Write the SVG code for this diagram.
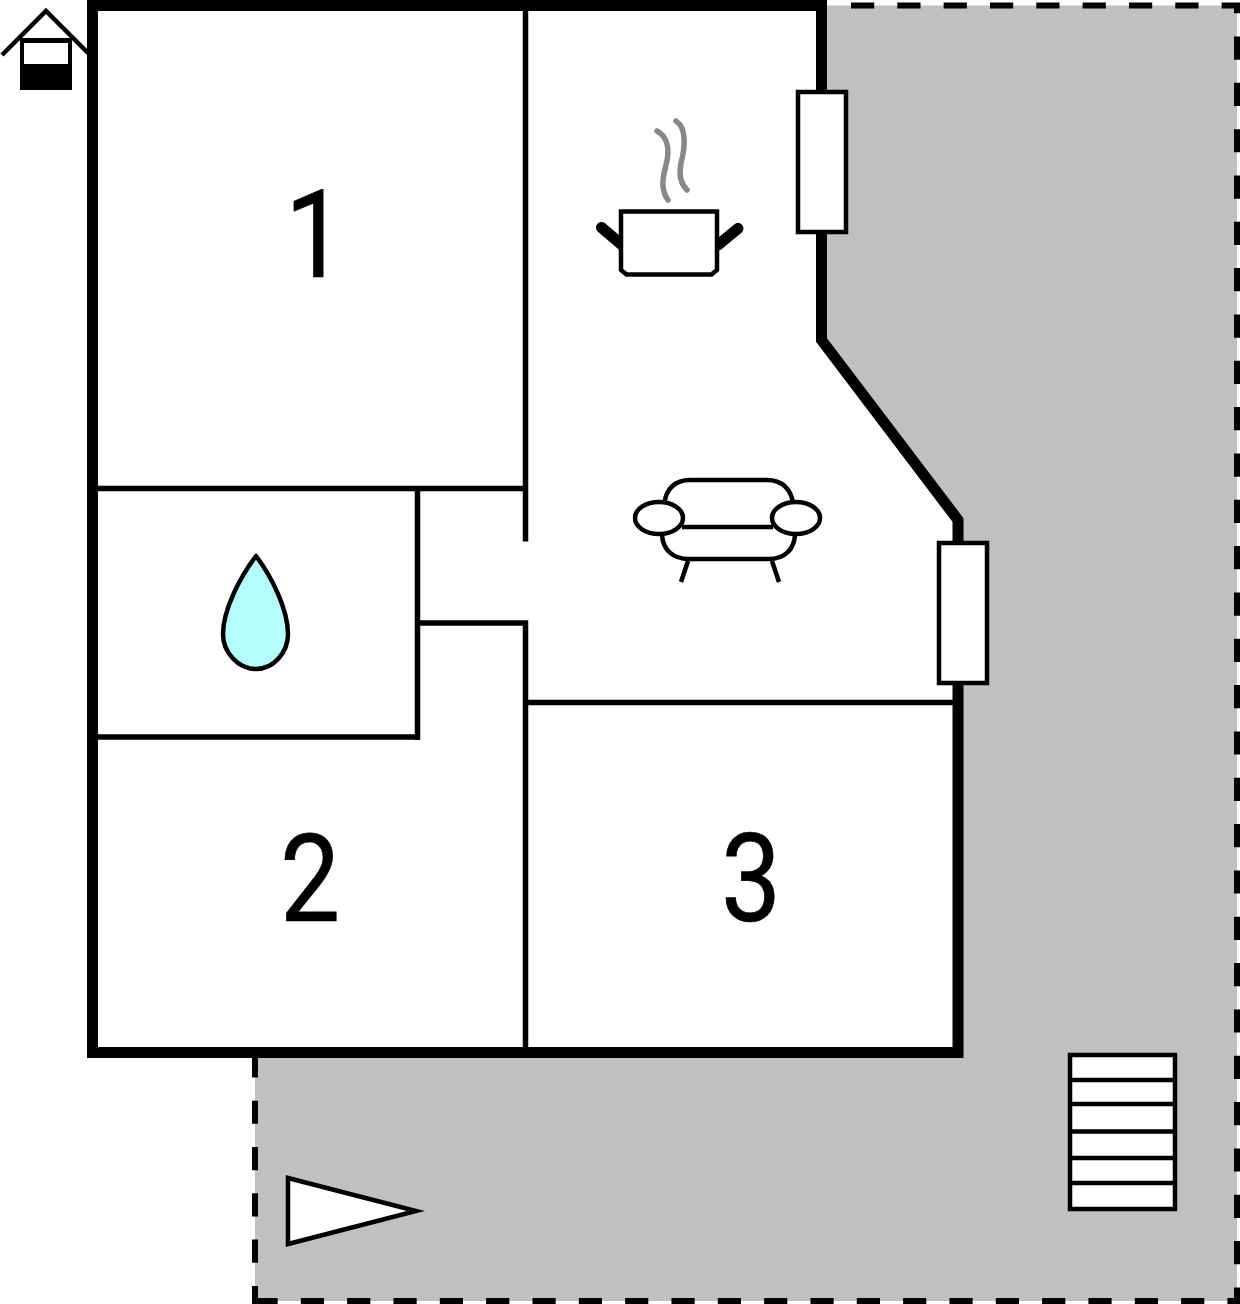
<svg xmlns="http://www.w3.org/2000/svg" width="1240" height="1304" viewBox="0 0 1240 1304">
<style>
.dash{fill:none;stroke:#000;stroke-width:6;stroke-dasharray:23.2 23.13}
.wall{fill:none;stroke:#000;stroke-width:11;stroke-linejoin:miter}
.thin{fill:none;stroke:#000;stroke-width:5.5}
.line{fill:#fff;stroke:#000;stroke-width:4.5}
.open{fill:none;stroke:#000;stroke-width:4.5}
.steam{fill:none;stroke:#888;stroke-width:5.5;stroke-linecap:round}
.num{font-family:Roboto,"Liberation Sans",Arial,sans-serif;font-size:123px;fill:#000;stroke:#000;stroke-width:.7;text-anchor:middle}
</style>
<rect width="1240" height="1304" fill="#fff"/>
<g id="terrace">
<path d="M821,5.5H1237V1301H255V1052H958V520L821,340Z" fill="#c0c0c0"/>
<path class="dash" d="M851,5.5H1237V1301H255"/>
<path class="dash" d="M255,1054.3V1304"/>
</g>
<g id="walls">
<path class="wall" d="M92.5,5.5H821.5V340L958,520V1052.5H92.5Z"/>
<path class="thin" d="M525.5,11V541.5M98,488.5H525M417.5,488V740M98,737H420M417.5,623H528M525.5,620.5V1047M525,702.5H953"/>
</g>
<g id="window-1"><rect class="line" x="798" y="92" width="48" height="140"/></g>
<g id="window-2"><rect class="line" x="939" y="543" width="48" height="140"/></g>
<g id="house">
<path d="M2,55L46,11L88,53" fill="none" stroke="#000" stroke-width="4.5"/>
<rect x="20" y="38" width="52" height="52" fill="#000"/>
<rect x="24" y="43" width="44" height="21" fill="#fff"/>
</g>
<g id="room-1"><text class="num" transform="translate(315 277) scale(.87 1)">1</text></g>
<g id="room-2"><text class="num" transform="translate(310 921) scale(.87 1)">2</text></g>
<g id="room-3"><text class="num" transform="translate(751 921) scale(.87 1)">3</text></g>
<g id="pot">
<path class="steam" d="M657,131C668,137 670,150 666,165C662,180 661,190 668,200"/>
<path class="steam" d="M676,121C687,128 685,148 681,163C679,173 680,183 687,190"/>
<path d="M601.5,227.5L622,245M738,228.5L718,245" fill="none" stroke="#000" stroke-width="11" stroke-linecap="round"/>
<path class="line" d="M621,211.5H717V270L711.5,274.5H626.5L621,270Z"/>
</g>
<g id="sofa">
<path class="open" d="M664.5,503C666,489 675,480 690,480H767C782,480 791,489 793,503M682,527H773M662,535C663,550 673,559 689,559H769C784,559 794,550 795,535M688,561L681,582M772,561L779,582"/>
<ellipse class="line" cx="659" cy="518" rx="24" ry="16"/>
<ellipse class="line" cx="796" cy="518" rx="24" ry="16"/>
</g>
<g id="drop">
<path d="M256,556C240,577 223,610 223,634C223,652 238,669 256,669C274,669 288,652 288,634C288,610 272,577 256,556Z" fill="#b3ffff" stroke="#000" stroke-width="4.5" stroke-linejoin="round"/>
</g>
<g id="north"><path class="line" style="stroke-miterlimit:10" d="M288,1178L416,1211L288,1244Z"/></g>
<g id="stairs">
<rect class="line" x="1070" y="1055" width="105" height="154"/>
<path class="line" d="M1070,1080H1175M1070,1104H1175M1070,1131.5H1175M1070,1158H1175M1070,1183H1175"/>
</g>
</svg>
